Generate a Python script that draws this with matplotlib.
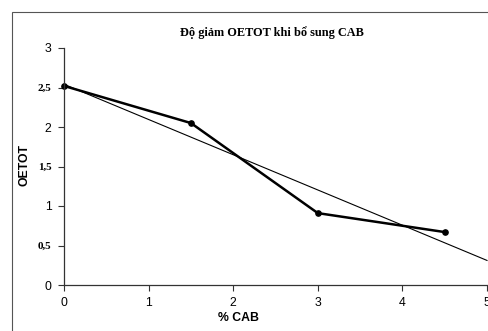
import matplotlib
matplotlib.use("Agg")
import matplotlib.pyplot as plt
import numpy as np
from matplotlib.patches import Rectangle

title = "Độ giảm OETOT khi bổ sung CAB"
x_label = "% CAB"
y_label = "OETOT"
cab = [0, 1.5, 3, 4.5]
oetot = [2.52, 2.05, 0.91, 0.67]
x_ticks = [0, 1, 2, 3, 4, 5]
y_ticks = [0, 0.5, 1, 1.5, 2, 2.5, 3]
y_tick_labels = ["0", "0,5", "1", "1,5", "2", "2,5", "3"]

fig = plt.figure(figsize=(4.88, 3.31), dpi=100)
fig.patch.set_facecolor("white")
ax = fig.add_axes([64/488, 1-285/331, (487-64)/488, (285-48)/331])

# trend line (linear fit of the data)
slope, intercept = np.polyfit(cab, oetot, 1)
tx = np.array([0, 5])
ax.plot(tx, slope*tx + intercept, color="black", lw=0.8, clip_on=False)
ax.plot(cab, oetot, color="black", lw=1.8, marker="o", ms=3.8, clip_on=False)

ax.set_xlim(0, 5)
ax.set_ylim(0, 3)
ax.spines["top"].set_visible(False)
ax.spines["right"].set_visible(False)
for s in ("left", "bottom"):
    ax.spines[s].set_color("#333333")
    ax.spines[s].set_linewidth(0.9)
ax.set_xticks(x_ticks)
ax.set_xticklabels([str(v) for v in x_ticks], fontsize=8.8, family="Liberation Sans")
ax.set_yticks(y_ticks)
labels = ax.set_yticklabels(y_tick_labels)
for lab, txt in zip(labels, y_tick_labels):
    if "," in txt:
        lab.set_fontfamily("Liberation Serif")
        lab.set_fontweight("bold")
        lab.set_fontsize(8)
    else:
        lab.set_fontfamily("Liberation Sans")
        lab.set_fontsize(8.8)
ax.tick_params(direction="out", length=4, width=0.8, color="#333333", pad=5)

fig.text(272/488, 1-33/331, title, ha="center", va="center",
         fontsize=8.8, fontweight="bold", family="Liberation Serif")
fig.text(238/488, 1-318/331, x_label, ha="center", va="center",
         fontsize=8.8, fontweight="bold", family="Liberation Sans")
fig.text(25/488, 1-165/331, y_label, ha="center", va="center", rotation=90,
         fontsize=8.8, fontweight="bold", family="Liberation Sans")

# figure frame
fig.patches.append(Rectangle((12/488, -0.1), 1.2, 1-12/331+0.1, transform=fig.transFigure,
                             fill=False, edgecolor="#555555", lw=0.8))

fig.savefig("out.png", dpi=100, facecolor="white")
